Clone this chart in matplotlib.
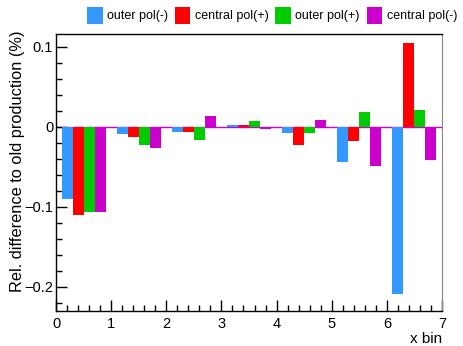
import matplotlib
matplotlib.use("Agg")
import matplotlib.pyplot as plt
import numpy as np
from matplotlib.ticker import MultipleLocator

# ── Data ───────────────────────────────────────────────────────────────────
BINS = np.arange(7)
SERIES = ["outer pol(-)", "central pol(+)", "outer pol(+)", "central pol(-)"]
OUTER_NEG = [-0.090, -0.009, -0.006, 0.002, -0.008, -0.044, -0.209]
CENTRAL_POS = [-0.110, -0.013, -0.006, 0.002, -0.023, -0.018, 0.105]
OUTER_POS = [-0.106, -0.023, -0.016, 0.007, -0.008, 0.018, 0.021]
CENTRAL_NEG = [-0.106, -0.026, 0.013, -0.003, 0.008, -0.049, -0.042]
VALUES = [OUTER_NEG, CENTRAL_POS, OUTER_POS, CENTRAL_NEG]

COLORS = ["#3399ff", "#ff0000", "#00cc00", "#cc00cc"]

plt.rcParams.update({
    "font.family": "Liberation Sans",
    "font.size": 10.5,
})

fig = plt.figure(figsize=(4.64, 3.46), dpi=100)
ax = fig.add_axes([0.1207, 0.1012, 0.8319, 0.8005])

bar_w = 0.2
handles = []
for k, (vals, col) in enumerate(zip(VALUES, COLORS)):
    h = ax.bar(BINS + 0.1 + k * bar_w, vals, width=bar_w, align="edge",
               color=col, linewidth=0, zorder=2)
    handles.append(h)

# histogram outlines at zero (ROOT style)
ax.axhline(0, color="#cc00cc", linewidth=1.0, zorder=1)

ax.set_xlim(0, 7)
ax.set_ylim(-0.23, 0.116)
ax.xaxis.set_major_locator(MultipleLocator(1))
ax.xaxis.set_minor_locator(MultipleLocator(0.2))
ax.yaxis.set_minor_locator(MultipleLocator(0.02))
ax.set_yticks([-0.2, -0.1, 0, 0.1])
ax.set_yticklabels(["\u22120.2", "\u22120.1", "0", "0.1"])
ax.tick_params(which="both", direction="in", top=False, right=False)
ax.tick_params(which="major", length=8, width=1)
ax.tick_params(which="minor", length=4, width=1)
ax.tick_params(axis="x", pad=4)
ax.tick_params(axis="y", pad=2)

ax.spines["right"].set_color("#888888")
for s in ["left", "bottom", "top"]:
    ax.spines[s].set_linewidth(1.0)

fig.text(442 / 464, 1 - 339 / 346, "x bin", ha="right", va="center",
         fontsize=11)
fig.text(18 / 464, 1 - 31 / 346, "Rel. difference to old production (%)",
         rotation=90, ha="center", va="top", fontsize=11.8)

fig.legend(handles, SERIES, loc="upper right", bbox_to_anchor=(1.0, 1.0),
           ncol=4, frameon=False, handlelength=1.25, handleheight=1.7,
           handletextpad=0.35, columnspacing=0.55, fontsize=9,
           borderaxespad=0.15)

fig.savefig("out.png", dpi=100)
